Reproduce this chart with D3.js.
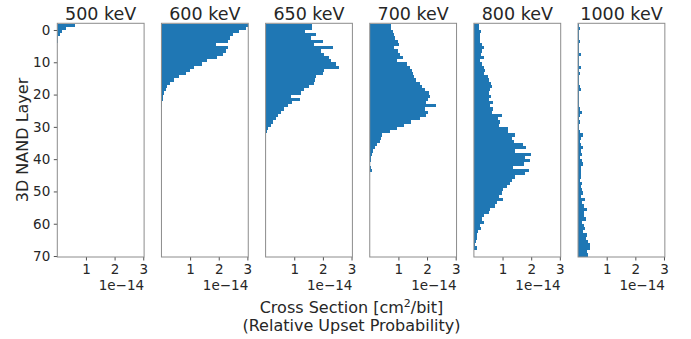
<!DOCTYPE html>
<html>
<head>
<meta charset="utf-8">
<script src="https://cdn.jsdelivr.net/npm/d3@7"></script>
<style>
  html, body { margin: 0; padding: 0; background: #fff; }
  svg { display: block; font-family: "DejaVu Sans", sans-serif; }
</style>
</head>
<body>
<svg id="chart" width="691" height="339"></svg>
<script>
// energies shown as panel titles
const energies = ["500 keV", "600 keV", "650 keV", "700 keV", "800 keV", "1000 keV"];
// first layer of every series; one value per layer after that (units of 1e-14 cm2/bit)
const firstLayer = -2;
const xTicks = [1, 2, 3];
const yTicks = [0, 10, 20, 30, 40, 50, 60, 70];

const cs500 = [0.62, 0.30, 0.15, 0.09, 0.04, 0.02, 0, 0, 0, 0,
  0, 0, 0, 0, 0, 0, 0, 0, 0, 0,
  0, 0, 0, 0, 0, 0, 0, 0, 0, 0,
  0, 0, 0, 0, 0, 0, 0, 0, 0, 0,
  0, 0, 0, 0, 0, 0, 0, 0, 0, 0,
  0, 0, 0, 0, 0, 0, 0, 0, 0, 0,
  0, 0, 0, 0, 0, 0, 0, 0, 0, 0, 0, 0, 0];
const cs600 = [3.05, 2.95, 2.69, 2.50, 2.40, 2.33, 1.90, 2.33, 2.25, 2.15,
  1.95, 1.60, 1.40, 1.15, 1.00, 0.85, 0.60, 0.45, 0.30, 0.20,
  0.15, 0.10, 0.07, 0.04, 0.02, 0.03, 0, 0, 0, 0,
  0, 0, 0, 0, 0, 0, 0, 0, 0, 0,
  0, 0, 0, 0, 0, 0, 0, 0, 0, 0,
  0, 0, 0, 0, 0, 0, 0, 0, 0, 0,
  0, 0, 0, 0, 0, 0, 0, 0, 0, 0, 0, 0, 0];
const cs650 = [1.61, 1.61, 1.36, 1.77, 1.60, 2.00, 1.69, 2.36, 1.94, 2.05,
  2.22, 2.30, 2.45, 2.57, 2.03, 2.00, 1.77, 1.73, 1.70, 1.53,
  1.34, 1.25, 0.88, 1.20, 0.92, 0.78, 0.65, 0.55, 0.45, 0.35,
  0.26, 0.18, 0.10, 0.06, 0.03, 0, 0, 0, 0, 0,
  0, 0, 0, 0, 0, 0, 0, 0, 0, 0,
  0, 0, 0, 0, 0, 0, 0, 0, 0, 0,
  0, 0, 0, 0, 0, 0, 0, 0, 0, 0, 0, 0, 0];
const cs700 = [0.74, 0.74, 0.80, 0.83, 0.89, 0.97, 1.03, 0.83, 0.97, 1.06,
  1.17, 0.95, 1.29, 1.40, 1.46, 1.52, 1.56, 1.61, 1.75, 1.84,
  1.94, 2.07, 2.12, 2.04, 1.98, 2.30, 1.92, 2.04, 1.95, 1.75,
  1.45, 1.20, 0.95, 0.70, 0.42, 0.38, 0.35, 0.25, 0.20, 0.12,
  0.08, 0.06, 0.03, 0, 0.03, 0.08, 0, 0, 0, 0,
  0, 0, 0, 0.02, 0, 0, 0, 0, 0, 0,
  0, 0, 0, 0, 0, 0, 0, 0, 0, 0, 0, 0, 0];
const cs800 = [0.19, 0.19, 0.26, 0.22, 0.20, 0.22, 0.28, 0.37, 0.30, 0.26,
  0.34, 0.22, 0.30, 0.37, 0.40, 0.37, 0.49, 0.51, 0.60, 0.63,
  0.55, 0.53, 0.60, 0.51, 0.65, 0.57, 0.68, 0.63, 0.97, 0.83,
  0.91, 0.86, 1.20, 1.20, 1.43, 1.32, 1.41, 1.72, 1.83, 1.43,
  1.98, 1.78, 1.95, 1.75, 1.37, 1.91, 1.78, 1.43, 1.32, 1.25,
  1.14, 1.03, 0.97, 0.86, 1.03, 0.80, 0.72, 0.57, 0.51, 0.34,
  0.28, 0.37, 0.22, 0.26, 0.14, 0.12, 0.11, 0.07, 0.05, 0.11, 0, 0, 0];
const cs1000 = [0.03, 0.07, 0.02, 0.03, 0.05, 0.07, 0.03, 0.05, 0.04, 0.10,
  0.05, 0.03, 0.04, 0.10, 0.05, 0.07, 0.03, 0.02, 0.04, 0.06,
  0.10, 0.04, 0.03, 0.05, 0.02, 0.04, 0.08, 0.13, 0.06, 0.04,
  0.06, 0.04, 0.05, 0.08, 0.16, 0.10, 0.08, 0.12, 0.18, 0.10,
  0.14, 0.08, 0.13, 0.16, 0.10, 0.12, 0.09, 0.11, 0.08, 0.13,
  0.10, 0.14, 0.18, 0.12, 0.24, 0.15, 0.20, 0.32, 0.20, 0.22,
  0.28, 0.15, 0.20, 0.24, 0.18, 0.30, 0.28, 0.35, 0.42, 0.40, 0.32, 0.36, 0.34];
const series = [cs500, cs600, cs650, cs700, cs800, cs1000];

const svg = d3.select("#chart");
const barColor = "#1f77b4";
const textColor = "#262626";
const spineColor = "#8c8c8c";

const panelLeft = 57.3, panelStep = 104.15, panelW = 86.8;
const plotTop = 23.3, plotBottom = 257;

const y = d3.scaleLinear().domain([-2.07, 70.3]).range([plotTop, plotBottom]);

svg.append("defs").selectAll("clipPath")
  .data(energies)
  .join("clipPath")
  .attr("id", (d, i) => "clip" + i)
  .append("rect")
  .attr("x", 0).attr("y", plotTop)
  .attr("width", panelW).attr("height", plotBottom - plotTop);

energies.forEach((name, i) => {
  const x0 = panelLeft + i * panelStep;
  const x = d3.scaleLinear().domain([0, 3.03]).range([0, panelW]);
  const g = svg.append("g").attr("transform", `translate(${x0},0)`);

  const rows = series[i].map((v, k) => ({ layer: firstLayer + k, v }));

  g.append("g")
    .attr("clip-path", `url(#clip${i})`)
    .attr("shape-rendering", "crispEdges")
    .selectAll("rect")
    .data(rows.filter(r => r.v > 0))
    .join("rect")
    .attr("x", x(0))
    .attr("y", d => y(d.layer))
    .attr("width", d => x(d.v) - x(0))
    .attr("height", d => y(d.layer + 1) - y(d.layer))
    .attr("fill", barColor);

  // x axis
  const xa = g.append("g")
    .attr("transform", `translate(0,${plotBottom})`)
    .call(d3.axisBottom(x).tickValues(xTicks).tickSize(3.5).tickPadding(4).tickFormat(d3.format("d")));
  xa.select(".domain").remove();
  xa.selectAll("line").attr("stroke", textColor).attr("stroke-width", 0.8);
  xa.selectAll("text").attr("fill", textColor).attr("font-size", 13.5)
    .attr("font-family", "DejaVu Sans");

  // offset text
  g.append("text")
    .attr("x", panelW).attr("y", 290)
    .attr("text-anchor", "end")
    .attr("fill", textColor).attr("font-size", 13.5)
    .text("1e\u221214");

  if (i === 0) {
    const ya = g.append("g")
      .call(d3.axisLeft(y).tickValues(yTicks).tickSize(3.5).tickPadding(3.5));
    ya.select(".domain").remove();
    ya.selectAll("line").attr("stroke", textColor).attr("stroke-width", 0.8);
    ya.selectAll("text").attr("fill", textColor).attr("font-size", 13.5)
      .attr("font-family", "DejaVu Sans");
  }

  // frame
  g.append("rect")
    .attr("x", 0).attr("y", plotTop)
    .attr("width", panelW).attr("height", plotBottom - plotTop)
    .attr("fill", "none").attr("stroke", spineColor).attr("stroke-width", 1);

  // title
  g.append("text")
    .attr("x", panelW / 2).attr("y", 20)
    .attr("text-anchor", "middle")
    .attr("fill", textColor).attr("font-size", 17.5)
    .text(name);
});

// y label
svg.append("text")
  .attr("transform", `translate(27.5,140) rotate(-90)`)
  .attr("text-anchor", "middle")
  .attr("fill", textColor).attr("font-size", 16)
  .text("3D NAND Layer");

// x label
const xl = svg.append("text")
  .attr("x", 351.5).attr("y", 313)
  .attr("text-anchor", "middle")
  .attr("fill", textColor).attr("font-size", 16);
xl.append("tspan").text("Cross Section [cm");
xl.append("tspan").attr("dy", -6).attr("font-size", 11).text("2");
xl.append("tspan").attr("dy", 6).text("/bit]");
svg.append("text")
  .attr("x", 351.5).attr("y", 331)
  .attr("text-anchor", "middle")
  .attr("fill", textColor).attr("font-size", 16)
  .text("(Relative Upset Probability)");
</script>
</body>
</html>
